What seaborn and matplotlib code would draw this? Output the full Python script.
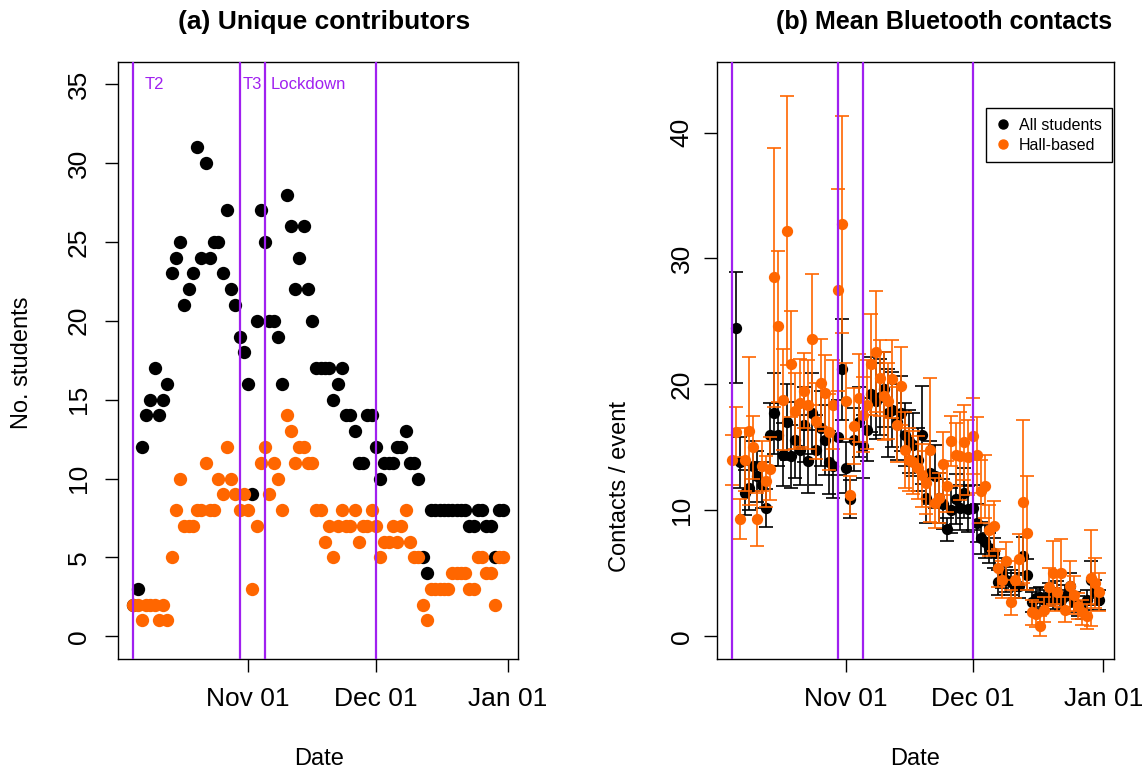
import numpy as np
import pandas as pd
import matplotlib
matplotlib.use("Agg")
import matplotlib.pyplot as plt
import matplotlib.dates as mdates
from matplotlib.lines import Line2D
import seaborn as sns

# ---- data ----
# (a) unique contributors per day, first day 2020-10-05
contrib_start = "2020-10-05"
contrib_all = [2, 3, 12, 14, 15, 17, 14, 15, 16, 23,
               24, 25, 21, 22, 23, 31, 24, 30, 24, 25,
               25, 23, 27, 22, 21, 19, 18, 16, 9, 20,
               27, 25, 20, 20, 19, 16, 28, 26, 22, 24,
               26, 22, 20, 17, 17, 17, 17, 15, 16, 17,
               14, 14, 13, 11, 11, 14, 14, 12, 10, 11,
               11, 11, 12, 12, 13, 11, 11, 10, 5, 4,
               8, 8, 8, 8, 8, 8, 8, 8, 8, 7,
               7, 8, 8, 7, 7, 5, 8, 8]
contrib_hall = [2, 2, 1, 2, 2, 2, 1, 2, 1, 5,
                8, 10, 7, 7, 7, 8, 8, 11, 8, 8,
                10, 9, 12, 10, 9, 8, 9, 8, 3, 7,
                11, 12, 9, 11, 10, 8, 14, 13, 11, 12,
                12, 11, 11, 8, 8, 6, 7, 5, 7, 8,
                7, 7, 8, 6, 7, 7, 8, 7, 5, 6,
                6, 7, 6, 7, 8, 6, 5, 5, 2, 1,
                3, 3, 3, 3, 3, 4, 4, 4, 4, 3,
                3, 5, 5, 4, 4, 2, 5, 5]

# (b) mean bluetooth contacts per event
contacts_all_start = "2020-10-06"
contacts_all = [24.5, 13.8, 11.4, 11.8, 13.5, 12.7, 12.0, 10.2, 16.0, 17.7,
                16.0, 14.4, 17.0, 14.3, 15.6, 14.8, 16.8, 13.9, 17.7, 14.8,
                16.5, 15.6, 13.8, 13.5, 15.8, 21.2, 13.4, 10.9, 15.6, 17.0,
                15.1, 16.4, 19.2, 18.7, 19.0, 19.6, 17.7, 18.0, 17.0, 17.7,
                16.0, 15.5, 15.2, 14.0, 16.0, 11.0, 13.0, 12.7, 11.0, 10.5,
                8.5, 10.0, 10.9, 10.2, 11.4, 10.1, 10.2, 9.0, 7.8, 7.5,
                7.0, 6.6, 4.3, 5.0, 4.5, 4.3, 4.0, 4.0, 6.4, 4.9,
                2.7, 3.0, 3.1, 2.9, 3.3, 3.0, 3.5, 2.9, 3.2, 4.0,
                2.7, 2.4, 2.1, 2.9, 4.5, 3.5, 2.9]
contacts_all_err = [4.4, 2.0, 1.8, 1.8, 2.0, 2.0, 1.8, 1.5, 2.5, 3.2,
                    2.5, 2.5, 3.0, 2.5, 3.0, 2.8, 3.0, 2.5, 3.2, 2.8,
                    3.0, 2.8, 2.5, 2.5, 3.0, 4.0, 2.0, 1.5, 2.5, 2.8,
                    2.5, 2.5, 3.0, 3.0, 3.0, 3.0, 3.5, 3.0, 3.0, 3.0,
                    2.5, 2.5, 2.5, 2.5, 3.9, 2.0, 2.5, 2.5, 2.0, 2.0,
                    0.9, 1.8, 2.0, 1.8, 2.0, 1.8, 1.8, 1.5, 1.3, 1.3,
                    1.2, 1.2, 1.0, 1.2, 1.0, 1.0, 1.0, 1.0, 1.5, 1.2,
                    0.8, 0.8, 0.8, 0.8, 0.9, 0.8, 0.9, 0.8, 0.9, 1.0,
                    0.8, 0.8, 0.7, 0.8, 1.5, 1.0, 0.8]
contacts_hall_start = "2020-10-05"
contacts_hall = [14.0, 16.2, 9.3, 14.0, 16.3, 15.0, 9.3, 13.5, 12.3, 13.3,
                 28.5, 24.6, 18.8, 32.2, 21.6, 17.9, 18.5, 19.5, 18.4, 23.6,
                 17.1, 20.1, 19.3, 16.2, 18.4, 27.5, 32.7, 18.7, 11.2, 16.7,
                 18.9, 17.6, 18.4, 21.6, 22.6, 20.5, 19.1, 18.7, 20.4, 16.8,
                 19.9, 14.8, 14.0, 13.8, 13.4, 12.8, 12.2, 14.8, 10.6, 11.0,
                 13.7, 11.9, 15.5, 14.4, 14.3, 15.4, 14.2, 15.9, 14.4, 11.5,
                 11.9, 8.4, 8.75, 5.45, 4.5, 6.0, 2.7, 4.5, 6.1, 10.7,
                 8.2, 1.9, 1.75, 0.8, 2.1, 3.9, 5.05, 3.5, 5.05, 2.1,
                 4.0, 3.3, 2.4, 1.9, 1.6, 4.65, 4.25, 3.5]
contacts_hall_err = [2.0, 2.0, 1.6, 2.5, 5.9, 2.5, 2.1, 2.0, 2.0, 2.5,
                     10.3, 6.0, 4.0, 10.7, 4.2, 3.0, 3.5, 3.0, 3.5, 5.2,
                     3.0, 3.5, 3.0, 3.0, 3.5, 8.0, 8.6, 3.0, 1.5, 3.0,
                     3.5, 3.0, 3.5, 4.0, 4.8, 3.0, 3.5, 3.0, 3.1, 3.0,
                     3.1, 3.0, 2.5, 2.5, 2.5, 2.5, 2.5, 5.7, 2.0, 2.0,
                     2.5, 2.0, 2.0, 2.5, 3.5, 3.0, 3.0, 3.0, 3.0, 2.5,
                     2.5, 2.0, 2.0, 1.5, 1.5, 1.5, 1.0, 1.5, 2.0, 6.5,
                     4.5, 1.0, 1.0, 0.8, 1.0, 1.5, 2.5, 1.5, 2.7, 1.0,
                     2.0, 1.5, 1.0, 1.0, 1.0, 3.8, 2.0, 1.5]

event_dates = ["2020-10-05", "2020-10-30", "2020-11-05", "2020-12-01"]
event_labels = ["T2", "T3", "Lockdown", ""]
tick_dates = ["2020-11-01", "2020-12-01", "2021-01-01"]
tick_labels = ["Nov 01", "Dec 01", "Jan 01"]

BLACK = "black"
ORANGE = "#FF6600"
PURPLE = "#A020F0"

sns.set_theme(style="ticks")
plt.rcParams["font.family"] = ["Liberation Sans", "DejaVu Sans"]
plt.rcParams["text.color"] = "black"
plt.rcParams["axes.labelcolor"] = "black"

def days(start, n):
    return pd.date_range(start, periods=n, freq="D")

fig = plt.figure(figsize=(11.43, 7.74), dpi=100)
W, H = 1143, 774
bottom = 1 - 659.3 / H
height = 597.3 / H
axL = fig.add_axes([118.3 / W, bottom, 400 / W, height])
axR = fig.add_axes([717 / W, bottom, 397 / W, height])

origin = pd.Timestamp("2020-10-01")
xlim = (origin + pd.Timedelta(days=0.45), origin + pd.Timedelta(days=94.5))

# ---- (a) ----
x_a = days(contrib_start, len(contrib_all))
sns.scatterplot(x=x_a, y=contrib_all, color=BLACK, s=92, linewidth=0, ax=axL, zorder=3)
sns.scatterplot(x=x_a, y=contrib_hall, color=ORANGE, s=92, linewidth=0, ax=axL, zorder=4)
axL.set_ylim(-1.46, 36.4)
axL.set_yticks([0, 5, 10, 15, 20, 25, 30, 35])

# ---- (b) ----
x_all = days(contacts_all_start, len(contacts_all))
x_hall = days(contacts_hall_start, len(contacts_hall))
axR.errorbar(x_all, contacts_all, yerr=contacts_all_err, fmt="none", ecolor=BLACK,
             elinewidth=1.2, capsize=5.2, capthick=1.2, zorder=2)
sns.scatterplot(x=x_all, y=contacts_all, color=BLACK, s=66, linewidth=0, ax=axR, zorder=3)
axR.errorbar(x_hall, contacts_hall, yerr=contacts_hall_err, fmt="none", ecolor=ORANGE,
             elinewidth=1.2, capsize=5.2, capthick=1.2, zorder=4)
sns.scatterplot(x=x_hall, y=contacts_hall, color=ORANGE, s=66, linewidth=0, ax=axR, zorder=5)
axR.set_ylim(-1.83, 45.6)
axR.set_yticks([0, 10, 20, 30, 40])

for ax, pad in ((axL, 10.5), (axR, 7.5)):
    ax.set_xlim(*xlim)
    ax.set_xticks(pd.to_datetime(tick_dates))
    ax.set_xticklabels(tick_labels)
    ax.set_xlabel("")
    ax.set_ylabel("")
    ax.tick_params(axis="both", direction="out", length=9.4, width=1.0, color="black",
                   labelsize=19, labelcolor="black")
    ax.tick_params(axis="x", pad=10.5)
    ax.tick_params(axis="y", pad=pad, labelrotation=90)
    for lab in ax.get_yticklabels():
        lab.set_va("center")
    for sp in ax.spines.values():
        sp.set_visible(True)
        sp.set_color("black")
        sp.set_linewidth(1.0)
    ax.set_facecolor("white")
    for d in event_dates:
        ax.axvline(pd.Timestamp(d), color=PURPLE, lw=1.6, zorder=6)

# event labels on panel (a)
label_x = ["2020-10-07 16:00", "2020-10-30 18:00", "2020-11-06 07:00", None]
for lx, lab in zip(label_x, event_labels):
    if lab:
        axL.text(pd.Timestamp(lx), 35, lab, color=PURPLE, fontsize=12,
                 ha="left", va="center", zorder=7)

# legend on panel (b)
handles = [Line2D([], [], marker="o", ls="", color=BLACK, markersize=6.5, label="All students"),
           Line2D([], [], marker="o", ls="", color=ORANGE, markersize=6.5, label="Hall-based")]
leg = axR.legend(handles=handles, loc="upper right", bbox_to_anchor=(0.994, 0.9225),
                 borderaxespad=0, fontsize=11.5, frameon=True, fancybox=False,
                 edgecolor="black", framealpha=1, borderpad=0.6, handletextpad=0.5,
                 labelspacing=0.3, handlelength=1.0)
leg.get_frame().set_linewidth(1.0)
for t in leg.get_texts():
    t.set_color("black")

# titles and axis labels
fig.text(324 / W, 1 - 22 / H, "(a) Unique contributors", ha="center", va="center",
         fontsize=19, fontweight="bold", color="black")
fig.text(944 / W, 1 - 22 / H, "(b) Mean Bluetooth contacts", ha="center", va="center",
         fontsize=18, fontweight="bold", color="black")
fig.text(21.7 / W, 1 - 363 / H, "No. students", rotation=90, ha="center", va="center",
         fontsize=17, color="black")
fig.text(620 / W, 1 - 487 / H, "Contacts / event", rotation=90, ha="center", va="center",
         fontsize=17, color="black")
fig.text(318.8 / W, 1 - 759 / H, "Date", ha="center", va="center", fontsize=17, color="black")
fig.text(915.5 / W, 1 - 759 / H, "Date", ha="center", va="center", fontsize=17, color="black")

fig.savefig("out.png", dpi=100, facecolor="white")
